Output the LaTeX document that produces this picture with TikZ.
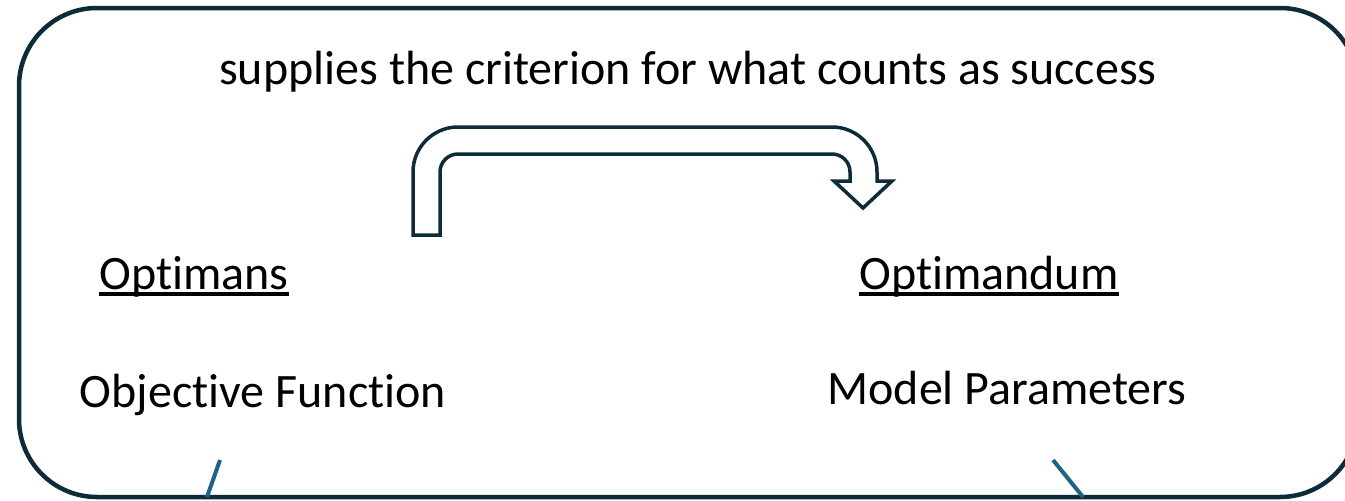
\documentclass[tikz,border=0pt]{standalone}
\usepackage{fontspec}
\setmainfont[Ligatures=NoCommon]{Carlito}
\definecolor{navy}{RGB}{14,43,58}
\definecolor{steel}{RGB}{30,98,134}
\tikzset{
  frame/.style={draw=navy, line width=4.5pt, rounded corners=78pt},
  bentarrow/.style={draw=navy, line width=3.5pt, line join=miter},
  label/.style={anchor=base, inner sep=0pt, font=\fontsize{48}{56}\selectfont},
  heading/.style={label},
  rule/.style={draw=black, line width=3.5pt},
  link/.style={draw=steel, line width=4pt}
}
\begin{document}
\begin{tikzpicture}[x=1pt, y=-1pt]
  \useasboundingbox (0,0) rectangle (1345,501);
  % outer frame, running past the right edge of the page
  \draw[frame] (19,8) rectangle (1358,497);

  \node[label] (crit) at (688,84) {supplies the criterion for what counts as success};

  % hollow bent arrow from Optimans towards Optimandum
  \draw[bentarrow] (413,235) -- (413,172) arc[start angle=180, end angle=90, radius=45pt]
    -- (832,127) arc[start angle=90, end angle=0, radius=45pt]
    -- (877,181) -- (892,181) -- (863,208) -- (834,181) -- (850,181)
    -- (850,172) arc[start angle=0, end angle=90, radius=18pt]
    -- (458,154) arc[start angle=90, end angle=180, radius=18pt]
    -- (440,235) -- cycle;

  \node[heading] (optimans) at (194,289) {Optimans};
  \node[heading] (optimandum) at (989,289) {Optimandum};
  \draw[rule] ([yshift=-5pt]optimans.base west) -- ([yshift=-5pt]optimans.base east);
  \draw[rule] ([yshift=-5pt]optimandum.base west) -- ([yshift=-5pt]optimandum.base east);

  \node[label] (objective) at (263,407) {Objective Function};
  \node[label] (params) at (1007,404) {Model Parameters};

  % links leaving through the bottom of the frame
  \coordinate (objtop) at (220,460);
  \coordinate (objbot) at (207,497);
  \coordinate (partop) at (1053,460);
  \coordinate (parbot) at (1083,497);
  \draw[link] (objtop) -- (objbot);
  \draw[link] (partop) -- (parbot);
\end{tikzpicture}
\end{document}
